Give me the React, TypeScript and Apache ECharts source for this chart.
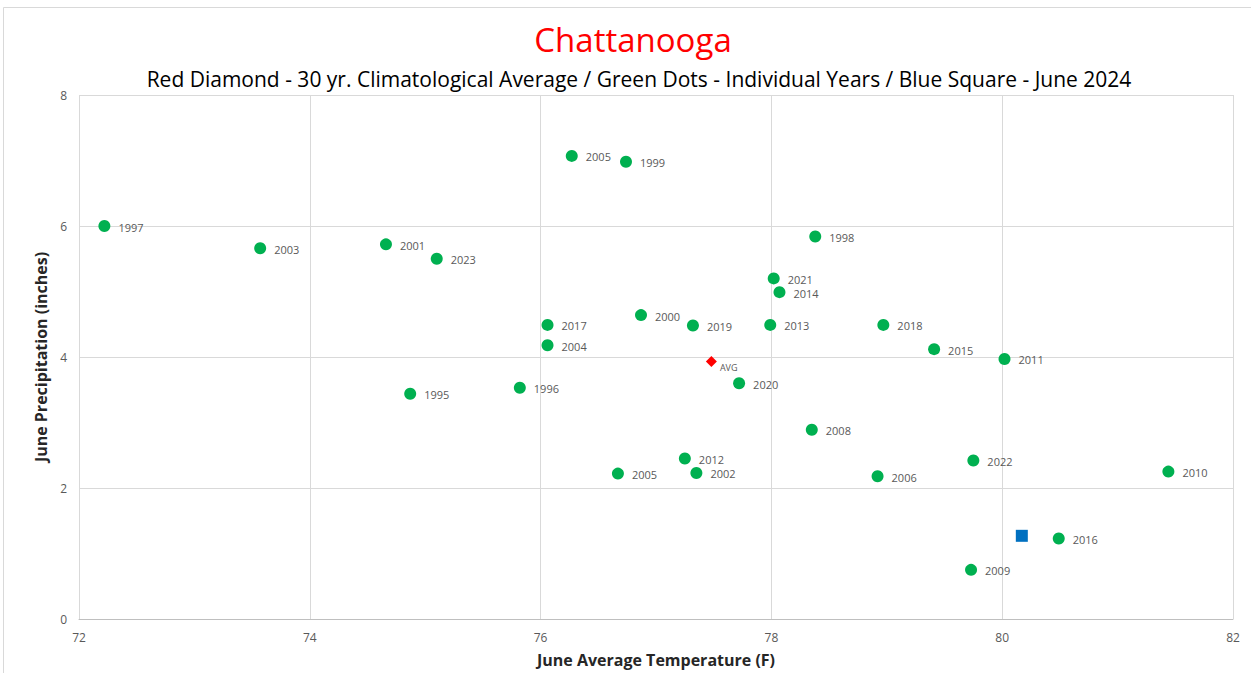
import React, { useEffect, useRef } from "react";
import * as echarts from "echarts";

const years = ["1997", "2003", "2001", "2023", "2005", "1999", "1998", "2021", "2014", "2000", "2017", "2019", "2013", "2018", "2004", "2015", "2011", "2020", "1996", "1995", "2008", "2012", "2002", "2005", "2006", "2022", "2010", "2016", "2009"];
const temps = [72.22, 73.57, 74.66, 75.10, 76.27, 76.74, 78.38, 78.02, 78.07, 76.87, 76.06, 77.32, 77.99, 78.97, 76.06, 79.41, 80.02, 77.72, 75.82, 74.87, 78.35, 77.25, 77.35, 76.67, 78.92, 79.75, 81.44, 80.49, 79.73];
const precip = [6.0, 5.66, 5.72, 5.50, 7.07, 6.98, 5.84, 5.20, 4.99, 4.64, 4.49, 4.48, 4.49, 4.49, 4.18, 4.12, 3.97, 3.60, 3.53, 3.44, 2.89, 2.45, 2.23, 2.22, 2.18, 2.42, 2.25, 1.23, 0.75];

const avgTemp = 77.48;
const avgPrecip = 3.93;
const june2024Temp = 80.17;
const june2024Precip = 1.27;

const xTicks = [72, 82, 2];
const yTicks = [0, 8, 2];

const FONT = "'Open Sans', 'Noto Sans', sans-serif";

export default function App() {
  const ref = useRef<HTMLDivElement>(null);
  useEffect(() => {
    if (!ref.current) return;
    const chart = echarts.init(ref.current, undefined, { renderer: "svg" });
    chart.setOption({
      animation: false,
      backgroundColor: "#ffffff",
      textStyle: { fontFamily: FONT },
      title: [
        {
          text: "Chattanooga",
          left: 628,
          textAlign: "center",
          top: 18,
          textStyle: { color: "#ff0000", fontSize: 33, fontWeight: "normal", fontFamily: FONT },
        },
        {
          text: "Red Diamond - 30 yr. Climatological Average / Green Dots - Individual Years / Blue Square - June 2024",
          left: 634,
          textAlign: "center",
          top: 63,
          textStyle: { color: "#000000", fontSize: 21, fontWeight: "normal", fontFamily: FONT },
        },
      ],
      graphic: [
        {
          type: "rect",
          shape: { x: 3.5, y: 7.5, width: 1260, height: 680 },
          style: { fill: "none", stroke: "#d9d9d9", lineWidth: 1 },
          silent: true,
        },
      ],
      grid: { left: 79, right: 18, top: 95, bottom: 52 },
      xAxis: {
        type: "value",
        min: xTicks[0],
        max: xTicks[1],
        interval: xTicks[2],
        name: "June Average Temperature (F)",
        nameLocation: "middle",
        nameGap: 33,
        nameTextStyle: { fontSize: 16, fontWeight: "bold", color: "#262626", fontFamily: FONT },
        axisLine: { show: true, lineStyle: { color: "#bfbfbf" } },
        axisTick: { show: false },
        axisLabel: { color: "#595959", fontSize: 12, margin: 12, fontFamily: FONT },
        splitLine: { show: true, lineStyle: { color: "#d9d9d9" } },
      },
      yAxis: {
        type: "value",
        min: yTicks[0],
        max: yTicks[1],
        interval: yTicks[2],
        name: "June Precipitation (inches)",
        nameLocation: "middle",
        nameGap: 29,
        nameTextStyle: { fontSize: 16, fontWeight: "bold", color: "#262626", fontFamily: FONT },
        axisLine: { show: false },
        axisTick: { show: false },
        axisLabel: { color: "#595959", fontSize: 12, margin: 12, fontFamily: FONT },
        splitLine: { show: true, lineStyle: { color: "#d9d9d9" } },
      },
      series: [
        {
          type: "scatter",
          symbol: "circle",
          symbolSize: 12,
          itemStyle: { color: "#00b050", opacity: 1 },
          data: years.map((y, i) => ({ name: y, value: [temps[i], precip[i]] })),
          label: {
            show: true,
            position: "right",
            distance: 8,
            offset: [0, 1],
            formatter: (p: any) => p.name,
            color: "#595959",
            fontSize: 11,
            fontFamily: FONT,
          },
        },
        {
          type: "scatter",
          symbol: "diamond",
          symbolSize: 11,
          itemStyle: { color: "#ff0000", opacity: 1 },
          data: [{ name: "AVG", value: [avgTemp, avgPrecip] }],
          label: {
            show: true,
            position: "right",
            distance: 3,
            offset: [0, 6],
            formatter: "AVG",
            color: "#595959",
            fontSize: 9,
            fontFamily: FONT,
          },
        },
        {
          type: "scatter",
          symbol: "rect",
          symbolSize: 12,
          itemStyle: { color: "#0070c0", opacity: 1 },
          data: [{ name: "June 2024", value: [june2024Temp, june2024Precip] }],
        },
      ],
    });
    return () => chart.dispose();
  }, []);
  return (
    <div
      ref={ref}
      style={{ position: "absolute", left: 0, top: 0, width: 1251, height: 673 }}
    />
  );
}
